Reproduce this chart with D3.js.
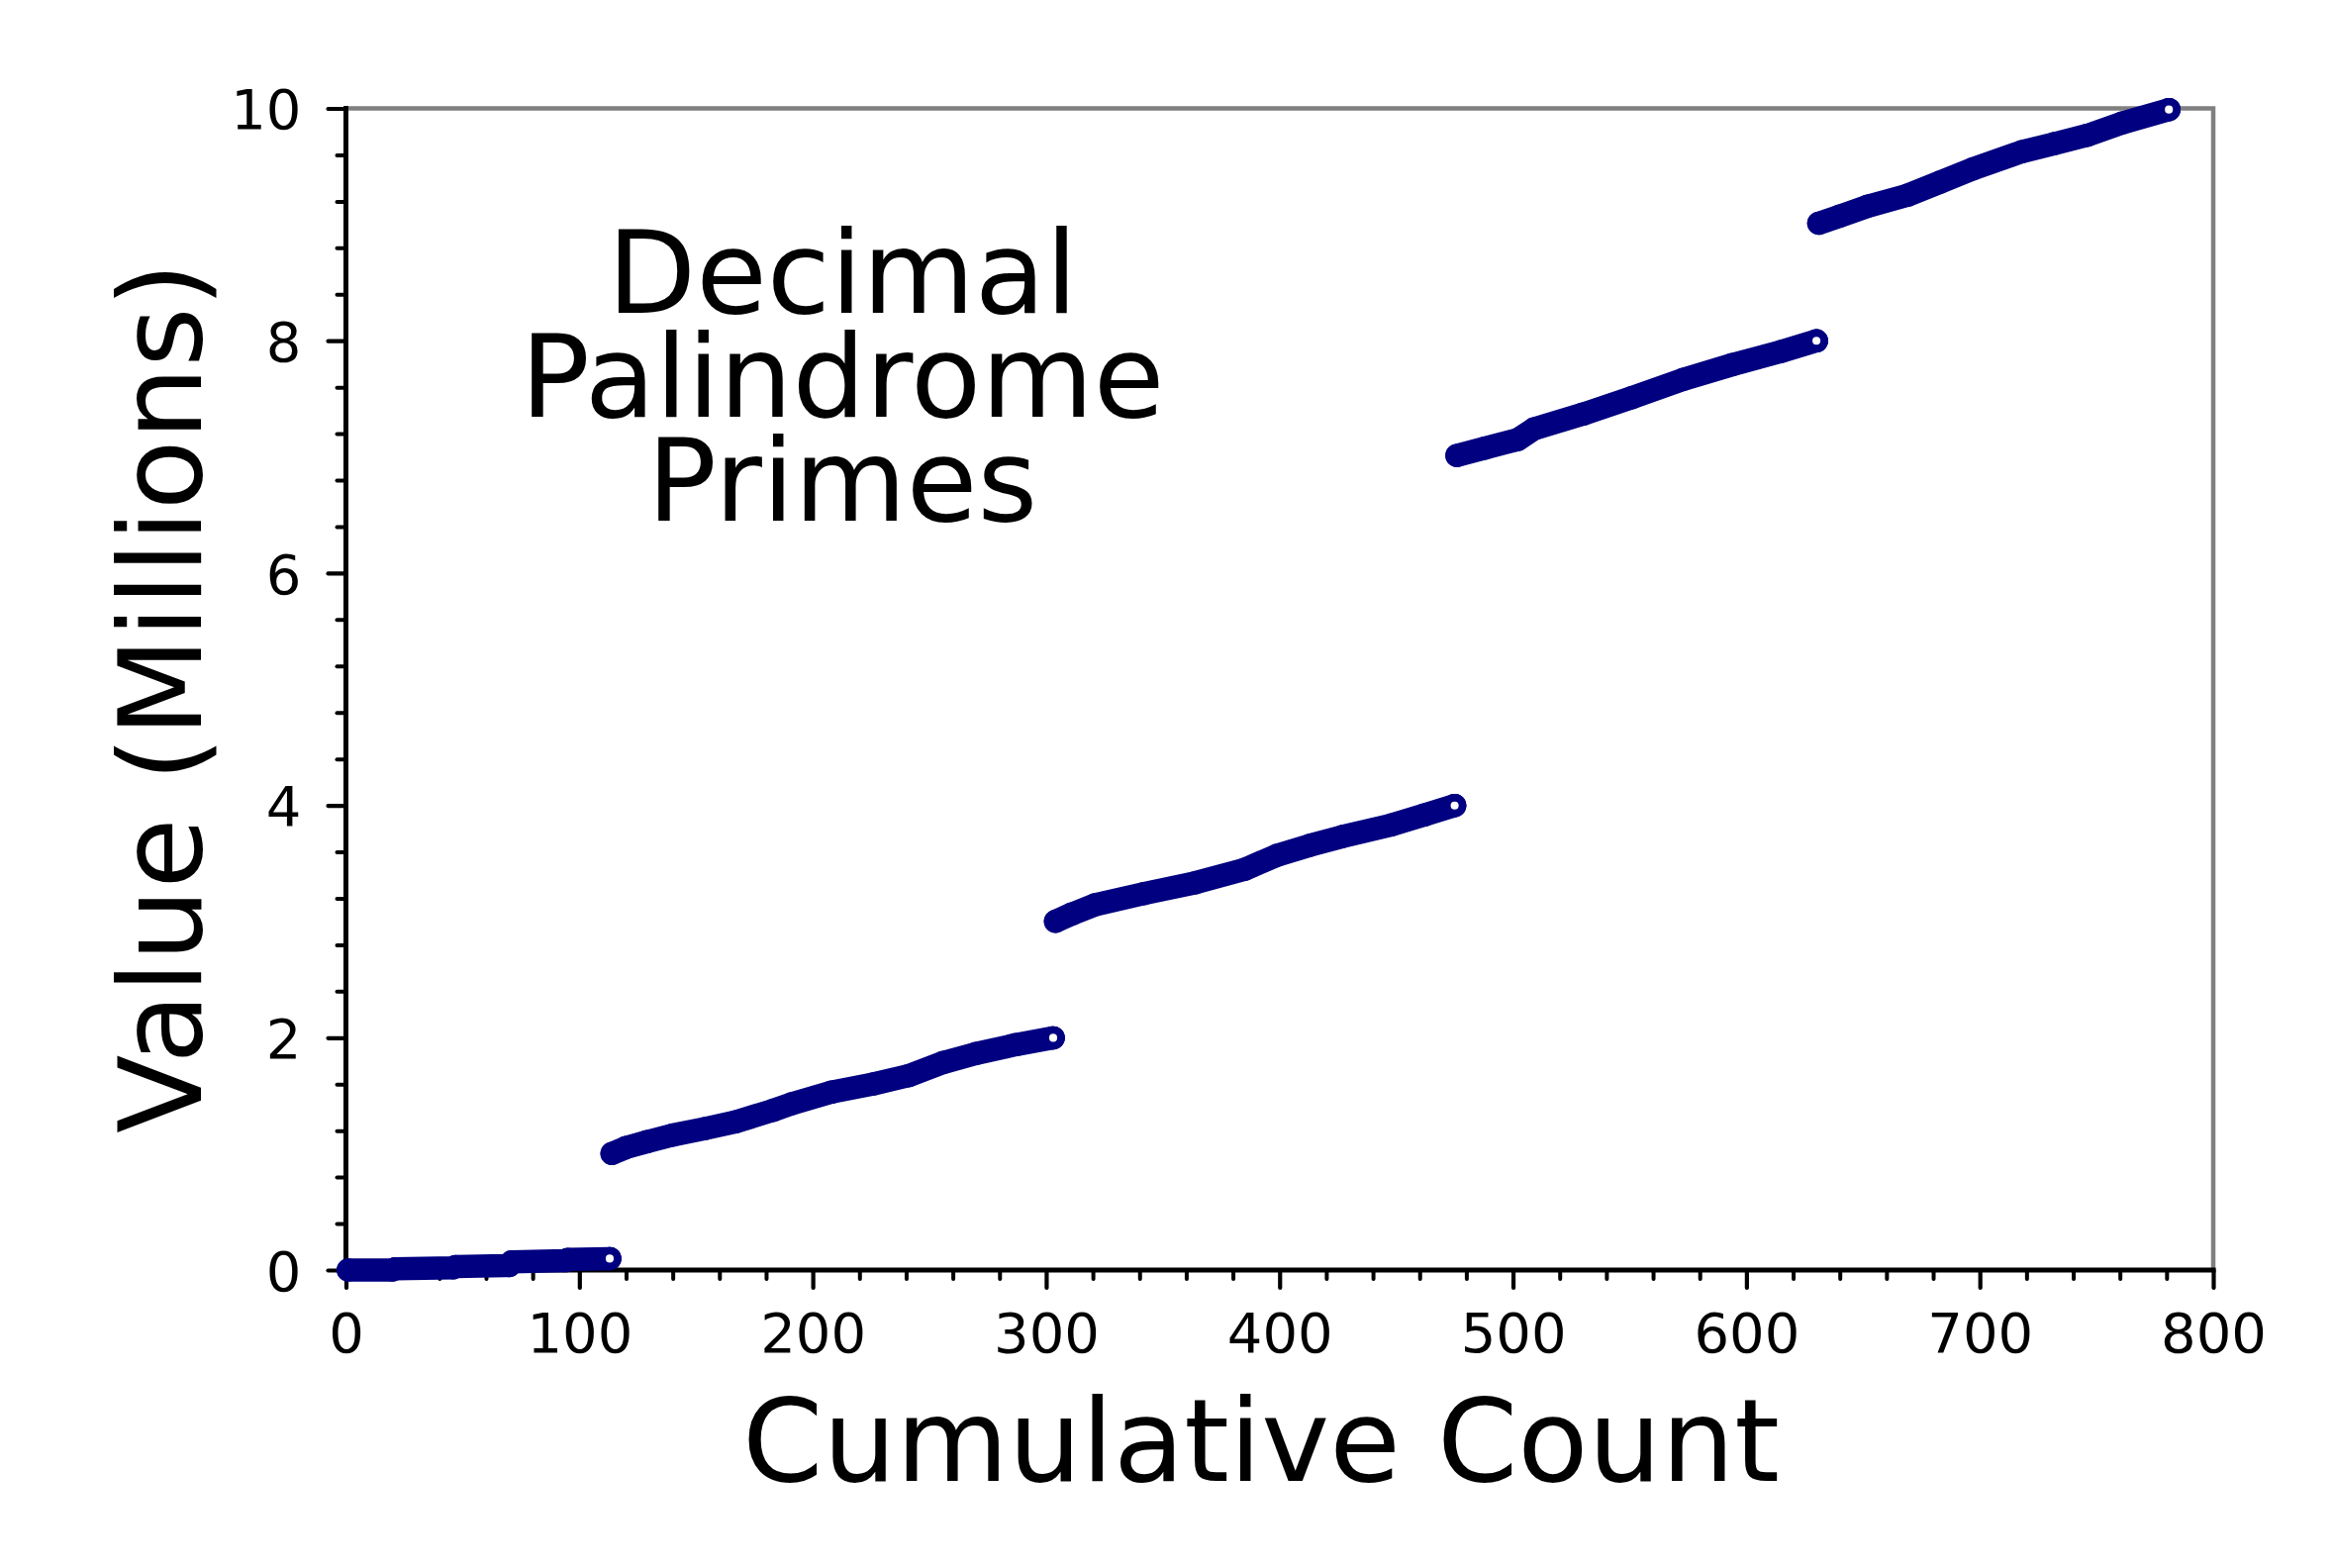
<!DOCTYPE html>
<html><head><meta charset="utf-8">
<script src="https://cdn.jsdelivr.net/npm/d3@7"></script>
<style>html,body{margin:0;padding:0;background:#fff}</style>
</head><body>
<script>
// ---- data (cumulative count, value in millions) ----
const counts0 = [1, 20, 21, 46, 47, 70, 71, 94, 95, 113];
const values0 = [0.000002, 0.000929, 0.010301, 0.019991, 0.030103, 0.039293, 0.070207, 0.079997, 0.090709, 0.098689];

const counts1 = [114, 120, 129, 140, 154, 167, 183, 191, 208, 226, 241, 256, 270, 287, 303];
const values1 = [1.003, 1.054, 1.105, 1.162, 1.219, 1.276, 1.375, 1.432, 1.531, 1.602, 1.673, 1.787, 1.864, 1.940, 1.999];

const counts3 = [304, 311, 321, 342, 364, 385, 399, 413, 427, 448, 462, 475];
const values3 = [3.002, 3.065, 3.144, 3.241, 3.335, 3.449, 3.571, 3.656, 3.732, 3.832, 3.917, 3.999];

const counts7 = [476, 488, 502, 509, 530, 551, 573, 594, 615, 630];
const values7 = [7.012, 7.076, 7.149, 7.241, 7.368, 7.510, 7.667, 7.794, 7.908, 7.999];

const counts9 = [631, 640, 652, 669, 683, 697, 718, 732, 746, 761, 781];
const values9 = [9.011, 9.073, 9.158, 9.252, 9.365, 9.479, 9.627, 9.697, 9.768, 9.874, 9.990];

const xTicks = [0, 100, 200, 300, 400, 500, 600, 700, 800];
const yTicks = [0, 2, 4, 6, 8, 10];
const xMinorTicks = d3.range(0, 801, 20).filter(v => v % 100 !== 0);
const yMinorTicks = d3.range(0, 10.01, 0.4).map(v => +v.toFixed(1)).filter(v => Math.abs(v / 2 - Math.round(v / 2)) > 1e-6);
const noteLines = ["Decimal", "Palindrome", "Primes"];
const xTitle = "Cumulative Count";
const yTitle = "Value (Millions)";

const segments = [
  [counts0, values0], [counts1, values1], [counts3, values3], [counts7, values7], [counts9, values9]
].map(([c, v]) => c.map((ci, i) => [ci, v[i]]));

// ---- layout ----
const W = 2358, H = 1584;
const L = 349.5, R = 2236, T = 109.5, B = 1283;
const NAVY = "#000080";
const FONT = "'DejaVu Sans', Verdana, sans-serif";

const x = d3.scaleLinear().domain([0, 800]).range([L, R]);
const y = d3.scaleLinear().domain([0, 10]).range([B, T]);

const svg = d3.select("body").append("svg")
  .attr("width", W).attr("height", H)
  .style("font-family", FONT);
svg.append("rect").attr("width", W).attr("height", H).attr("fill", "#fff");

// top & right spines (gray)
svg.append("path")
  .attr("d", `M${L},${T}H${R}V${B}`)
  .attr("fill", "none").attr("stroke", "#808080").attr("stroke-width", 4.5);

function styleAxis(g, width) {
  g.selectAll(".tick line").attr("stroke", "#000").attr("stroke-width", width).attr("stroke-linecap", "round");
  g.select(".domain").remove();
}

// minor ticks
const gxm = svg.append("g").attr("transform", `translate(0,${B})`)
  .call(d3.axisBottom(x).tickValues(xMinorTicks).tickSize(9).tickFormat(""));
styleAxis(gxm, 4);
const gym = svg.append("g").attr("transform", `translate(${L},0)`)
  .call(d3.axisLeft(y).tickValues(yMinorTicks).tickSize(9).tickFormat(""));
styleAxis(gym, 4);

// major ticks
const gx = svg.append("g").attr("transform", `translate(0,${B})`)
  .call(d3.axisBottom(x).tickValues(xTicks).tickSize(18).tickPadding(25).tickFormat(d3.format("d")));
styleAxis(gx, 4.2);
gx.selectAll("text").attr("font-size", 56).attr("font-family", FONT).attr("fill", "#000");

const gy = svg.append("g").attr("transform", `translate(${L},0)`)
  .call(d3.axisLeft(y).tickValues(yTicks).tickSize(18).tickPadding(27).tickFormat(d3.format("d")));
styleAxis(gy, 4.2);
gy.selectAll("text").attr("font-size", 56).attr("font-family", FONT).attr("fill", "#000").attr("dy", "0.36em");

// left & bottom spines (black)
svg.append("path")
  .attr("d", `M${L},${T}V${B}H${R}`)
  .attr("fill", "none").attr("stroke", "#000").attr("stroke-width", 5).attr("stroke-linecap", "square");

// ---- data marks ----
const line = d3.line().x(d => x(d[0])).y(d => y(d[1]));
svg.append("g").selectAll("path").data(segments).join("path")
  .attr("d", line)
  .attr("fill", "none").attr("stroke", NAVY).attr("stroke-width", 23.5)
  .attr("stroke-linecap", "round").attr("stroke-linejoin", "round");

svg.append("g").selectAll("circle").data(segments.flat()).join("circle")
  .attr("cx", d => x(d[0])).attr("cy", d => y(d[1])).attr("r", 11.75)
  .attr("fill", NAVY);

// last marker of each run: open circle
svg.append("g").selectAll("circle").data(segments.map(s => s[s.length - 1])).join("circle")
  .attr("cx", d => x(d[0])).attr("cy", d => y(d[1])).attr("r", 7.9)
  .attr("fill", "#fff").attr("stroke", NAVY).attr("stroke-width", 7.7);

// ---- texts ----
svg.append("text").attr("x", 1274).attr("y", 1496)
  .attr("text-anchor", "middle").attr("font-size", 116.5).text(xTitle);

svg.append("text").attr("transform", "translate(203,705) rotate(-90)")
  .attr("text-anchor", "middle").attr("font-size", 116).text(yTitle);

svg.append("g").selectAll("text").data(noteLines).join("text")
  .attr("x", 851).attr("y", (d, i) => 316 + i * 105)
  .attr("text-anchor", "middle").attr("font-size", 116.5).text(d => d);
</script>
</body></html>
